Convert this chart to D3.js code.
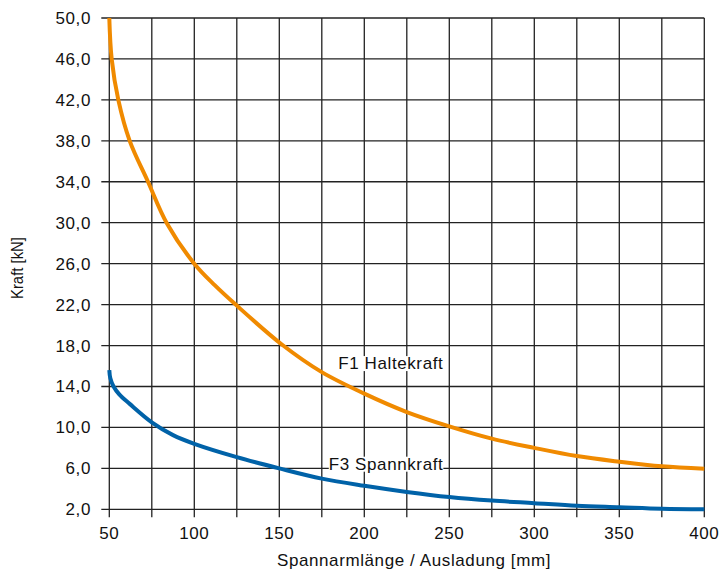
<!DOCTYPE html>
<html>
<head>
<meta charset="utf-8">
<script src="https://cdnjs.cloudflare.com/ajax/libs/d3/7.8.5/d3.min.js"></script>
<style>
  body { margin: 0; background: #fff; }
  text { font-family: "Liberation Sans", Arial, Helvetica, sans-serif; fill: #111; }
</style>
</head>
<body>
<div id="chartContainer"></div>
<script>
// x = arm length (mm), y = force (kN)
var f1X = [50, 51.4, 55.3, 62, 72.5, 84, 100, 112, 124, 151.5, 175, 200, 225, 250, 275, 300, 325, 350, 375, 400];
var f1Y = [50, 46, 42, 38, 34.1, 29.9, 26.0, 23.9, 22.05, 18.1, 15.4, 13.3, 11.5, 10.1, 8.9, 8.0, 7.2, 6.65, 6.2, 5.97];

var f3X = [50, 50.6, 52.5, 56, 62, 75, 87.5, 100, 125, 150, 175, 200, 225, 250, 275, 300, 325, 350, 375, 400];
var f3Y = [15.6, 14.8, 14.0, 13.2, 12.3, 10.5, 9.25, 8.4, 7.1, 6.0, 5.0, 4.3, 3.7, 3.2, 2.85, 2.6, 2.35, 2.2, 2.05, 2.0];

var xTicks = [50, 75, 100, 125, 150, 175, 200, 225, 250, 275, 300, 325, 350, 375, 400];
var xLabels = [50, 100, 150, 200, 250, 300, 350, 400];
var yTicks = [2, 6, 10, 14, 18, 22, 26, 30, 34, 38, 42, 46, 50];

var labels = [
  { text: "F1 Haltekraft", x: 246.5, y: 15.7 },
  { text: "F3 Spannkraft", x: 246.5, y: 5.87 }
];

var svg = d3.select("#chartContainer").append("svg")
  .attr("width", 720)
  .attr("height", 575);

var x = d3.scaleLinear().domain([50, 400]).range([109.3, 704.3]);
var y = d3.scaleLinear().domain([2, 50]).range([509.3, 18]);

// grid
var grid = svg.append("g").attr("stroke", "#222").attr("stroke-width", 1.3);
grid.selectAll("line.v").data(xTicks).enter().append("line")
  .attr("x1", function (d) { return x(d); })
  .attr("x2", function (d) { return x(d); })
  .attr("y1", y(50))
  .attr("y2", y(2) + 8);
grid.selectAll("line.h").data(yTicks).enter().append("line")
  .attr("x1", x(50) - 8)
  .attr("x2", x(400))
  .attr("y1", function (d) { return y(d); })
  .attr("y2", function (d) { return y(d); });

// tick labels
svg.selectAll("text.ylab").data(yTicks).enter().append("text")
  .attr("x", 91)
  .attr("y", function (d) { return y(d) + 6; })
  .attr("text-anchor", "end")
  .style("font-size", "17px")
  .style("letter-spacing", "0.6px")
  .text(function (d) { return d.toFixed(1).replace(".", ","); });

svg.selectAll("text.xlab").data(xLabels).enter().append("text")
  .attr("x", function (d) { return x(d); })
  .attr("y", 539)
  .attr("text-anchor", "middle")
  .style("font-size", "17px")
  .style("letter-spacing", "0.6px")
  .text(function (d) { return d; });

svg.append("text")
  .attr("x", 414)
  .attr("y", 566)
  .attr("text-anchor", "middle")
  .style("font-size", "17px")
  .style("letter-spacing", "0.6px")
  .text("Spannarmlänge / Ausladung [mm]");

svg.append("text")
  .attr("transform", "translate(23,268) rotate(-90)")
  .attr("text-anchor", "middle")
  .attr("textLength", 62)
  .attr("lengthAdjust", "spacingAndGlyphs")
  .style("font-size", "17px")
  .text("Kraft [kN]");

// curves
var line = d3.line()
  .x(function (d) { return x(d[0]); })
  .y(function (d) { return y(d[1]); })
  .curve(d3.curveCatmullRom.alpha(0.5));

svg.append("path")
  .datum(d3.zip(f1X, f1Y))
  .attr("d", line)
  .attr("fill", "none")
  .attr("stroke", "#f08a00")
  .attr("stroke-width", 4);

svg.append("path")
  .datum(d3.zip(f3X, f3Y))
  .attr("d", line)
  .attr("fill", "none")
  .attr("stroke", "#0062a8")
  .attr("stroke-width", 4);

// curve labels with white box behind
labels.forEach(function (l) {
  var g = svg.append("g");
  var t = g.append("text")
    .attr("x", x(l.x))
    .attr("y", y(l.y))
    .attr("text-anchor", "end")
    .style("font-size", "17px")
    .style("letter-spacing", "0.6px")
    .text(l.text);
  var b = t.node().getBBox();
  g.insert("rect", "text")
    .attr("x", b.x)
    .attr("y", b.y + 2)
    .attr("width", b.width)
    .attr("height", b.height - 4)
    .attr("fill", "#fff");
});
</script>
</body>
</html>
